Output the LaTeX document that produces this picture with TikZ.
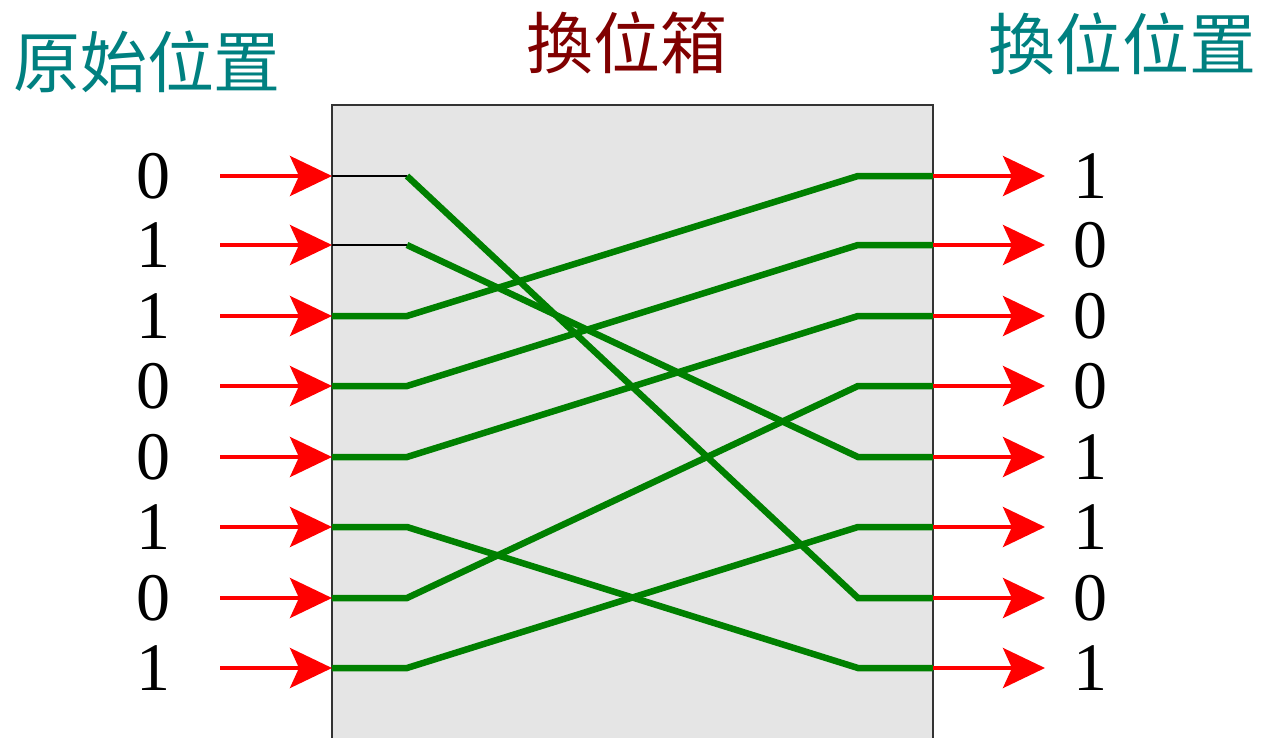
\documentclass[tikz,border=0pt]{standalone}
\usepackage{fontspec}
\setmainfont{Liberation Serif}
\newfontfamily\cjk{Noto Sans CJK TC}
\usetikzlibrary{arrows.meta}
\definecolor{boxgray}{RGB}{229,229,229}
\definecolor{wiregreen}{RGB}{0,128,0}
\definecolor{titleteal}{RGB}{0,128,128}
\definecolor{titlered}{RGB}{128,0,0}
\tikzset{
  digit/.style={inner sep=0pt, font=\fontsize{68}{68}\selectfont},
  title/.style={inner sep=0pt, font=\cjk\fontsize{67}{67}\selectfont},
  redarrow/.style={red, line width=4pt, -{Stealth[length=42pt, width=40pt, inset=9pt]}},
  wire/.style={wiregreen, line width=6.5pt, line join=miter},
  thinwire/.style={black, line width=1.2pt},
}
\begin{document}
\begin{tikzpicture}[x=1pt,y=-1pt]
\useasboundingbox (0,0) rectangle (1262,737);
% box
\fill[boxgray] (332,105) rectangle (933,745);
\draw[line width=2pt, black!80] (332,745) -- (332,105) -- (933,105) -- (933,745);
% titles
\node[title, text=titleteal] (t1) at (147,62) {原始位置};
\node[title, text=titlered] (t2) at (627,43) {換位箱};
\node[title, text=titleteal] (t3) at (1122,44) {換位位置};
% rows
\foreach \i/\y/\l/\r in {0/176/0/1,1/245/1/0,2/316/1/0,3/386/0/0,4/457/0/1,5/527/1/1,6/598/0/0,7/668/1/1}{
  \node[digit] (L\i) at (153,\y) {\l};
  \node[digit] (R\i) at (1090,\y) {\r};
  \coordinate (s\i) at (220,\y);
  \coordinate (in\i) at (332,\y);
  \coordinate (a\i) at (407,\y);
  \coordinate (b\i) at (858,\y);
  \coordinate (out\i) at (933,\y);
  \coordinate (e\i) at (1045,\y);
}
% wires
\foreach \i/\j in {0/6,1/4}{
  \draw[thinwire] (in\i) -- (a\i);
  \draw[wire] (a\i) -- (b\j) -- (out\j);
}
\foreach \i/\j in {2/0,3/1,4/2,5/7,6/3,7/5}{
  \draw[wire] (in\i) -- (a\i) -- (b\j) -- (out\j);
}
% arrows
\foreach \i in {0,...,7}{
  \draw[redarrow] (s\i) -- (in\i);
  \draw[redarrow] (out\i) -- (e\i);
}
\end{tikzpicture}
\end{document}
